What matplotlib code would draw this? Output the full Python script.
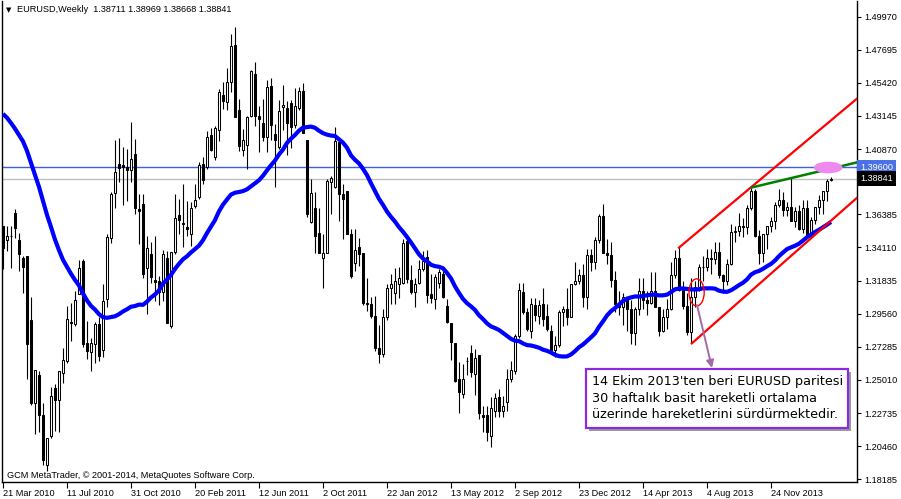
import numpy as np
import pandas as pd
import matplotlib
matplotlib.use("Agg")
import matplotlib.pyplot as plt
from matplotlib.patches import Ellipse, Rectangle
from matplotlib.transforms import blended_transform_factory

# EURUSD weekly bars, week of 21 Mar 2010 .. week of 9 Mar 2014
opens = [
    1.3555, 1.3461, 1.3488, 1.3646, 1.3461, 1.3341, 1.3352, 1.2912, 1.2343, 1.2532,
    1.2263, 1.1919, 1.2119, 1.2446, 1.2366, 1.2550, 1.2630, 1.2900, 1.2882, 1.3093,
    1.3320, 1.2756, 1.2694, 1.2749, 1.2887, 1.2704, 1.3055, 1.3474, 1.3788, 1.3986,
    1.3979, 1.3960, 1.3940, 1.4054, 1.3676, 1.3712, 1.3272, 1.3364, 1.3190, 1.3181,
    1.3107, 1.3337, 1.2871, 1.3380, 1.3632, 1.3580, 1.3552, 1.3502, 1.3697, 1.3754,
    1.3983, 1.3960, 1.4185, 1.4029, 1.4217, 1.4460, 1.4407, 1.4545, 1.4804, 1.4355,
    1.4080, 1.4116, 1.4316, 1.4602, 1.4316, 1.4263, 1.4171, 1.4522, 1.4190, 1.4098,
    1.4373, 1.4369, 1.4401, 1.4254, 1.4369, 1.4488, 1.4149, 1.3587, 1.3681, 1.3513,
    1.3337, 1.3375, 1.3857, 1.3827, 1.4132, 1.3777, 1.3800, 1.3502, 1.3307, 1.3414,
    1.3371, 1.3031, 1.3024, 1.2938, 1.2720, 1.2680, 1.2930, 1.3130, 1.3100, 1.3158,
    1.3169, 1.3456, 1.3185, 1.3107, 1.3169, 1.3261, 1.3346, 1.3089, 1.3055, 1.3169,
    1.3231, 1.3009, 1.2894, 1.2752, 1.2504, 1.2405, 1.2628, 1.2687, 1.2543, 1.2669,
    1.2257, 1.2257, 1.2114, 1.2286, 1.2382, 1.2286, 1.2350, 1.2504, 1.2562, 1.2802,
    1.3107, 1.2969, 1.2837, 1.3015, 1.2940, 1.3020, 1.2940, 1.2840, 1.2710, 1.2740,
    1.2970, 1.2990, 1.2930, 1.3160, 1.3180, 1.3220, 1.3070, 1.3360, 1.3310, 1.3460,
    1.3630, 1.3370, 1.3360, 1.3190, 1.3020, 1.3000, 1.3070, 1.2990, 1.2820, 1.2990,
    1.3110, 1.3050, 1.3030, 1.3110, 1.3000, 1.2840, 1.2930, 1.2990, 1.3220, 1.3340,
    1.3120, 1.3010, 1.2830, 1.3070, 1.3140, 1.3280, 1.3275, 1.3340, 1.3330, 1.3380,
    1.3220, 1.3180, 1.3300, 1.3520, 1.3525, 1.3560, 1.3550, 1.3680, 1.3800, 1.3490,
    1.3370, 1.3500, 1.3560, 1.3590, 1.3700, 1.3740, 1.3670, 1.3690, 1.3590, 1.3660,
    1.3540, 1.3680, 1.3490, 1.3600, 1.3690, 1.3740, 1.3800, 1.38711,
]
highs = [
    1.3560, 1.3559, 1.3555, 1.3676, 1.3513, 1.3352, 1.3352, 1.3073, 1.2566, 1.2560,
    1.2343, 1.2103, 1.2450, 1.2470, 1.2561, 1.2720, 1.3006, 1.3030, 1.3110, 1.3325,
    1.3330, 1.2908, 1.2791, 1.2900, 1.2930, 1.3160, 1.3500, 1.3790, 1.4149, 1.4160,
    1.4100, 1.4090, 1.4270, 1.4157, 1.3779, 1.3779, 1.3490, 1.3450, 1.3490, 1.3214,
    1.3390, 1.3387, 1.3380, 1.3777, 1.3743, 1.3846, 1.3732, 1.3721, 1.3846, 1.3997,
    1.4032, 1.4214, 1.4232, 1.4248, 1.4497, 1.4549, 1.4641, 1.4877, 1.4928, 1.4432,
    1.4226, 1.4316, 1.4631, 1.4687, 1.4385, 1.4432, 1.4560, 1.4572, 1.4259, 1.4425,
    1.4530, 1.4420, 1.4425, 1.4506, 1.4510, 1.4538, 1.4149, 1.3880, 1.3789, 1.3685,
    1.3502, 1.3883, 1.3903, 1.4240, 1.4132, 1.3846, 1.3800, 1.3536, 1.3536, 1.3474,
    1.3371, 1.3203, 1.3071, 1.3080, 1.2880, 1.2990, 1.3160, 1.3230, 1.3272, 1.3277,
    1.3467, 1.3490, 1.3290, 1.3199, 1.3323, 1.3385, 1.3390, 1.3227, 1.3231, 1.3261,
    1.3250, 1.3055, 1.2894, 1.2752, 1.2626, 1.2612, 1.2660, 1.2742, 1.2713, 1.2669,
    1.2324, 1.2324, 1.2386, 1.2409, 1.2440, 1.2392, 1.2573, 1.2630, 1.2818, 1.3170,
    1.3169, 1.2997, 1.3066, 1.3066, 1.3048, 1.3135, 1.3020, 1.2880, 1.2800, 1.2980,
    1.3010, 1.3130, 1.3160, 1.3310, 1.3260, 1.3300, 1.3400, 1.3400, 1.3480, 1.3640,
    1.3710, 1.3470, 1.3450, 1.3250, 1.3110, 1.3100, 1.3070, 1.3050, 1.3000, 1.3200,
    1.3200, 1.3110, 1.3240, 1.3240, 1.3000, 1.2990, 1.3060, 1.3310, 1.3390, 1.3420,
    1.3180, 1.3100, 1.3200, 1.3180, 1.3300, 1.3350, 1.3400, 1.3400, 1.3450, 1.3450,
    1.3230, 1.3330, 1.3570, 1.3560, 1.3650, 1.3610, 1.3700, 1.3832, 1.3810, 1.3530,
    1.3500, 1.3560, 1.3620, 1.3720, 1.3810, 1.3790, 1.3720, 1.3893, 1.3690, 1.3700,
    1.3740, 1.3740, 1.3620, 1.3690, 1.3770, 1.3800, 1.3880, 1.38969,
]
lows = [
    1.3265, 1.3387, 1.3272, 1.3474, 1.3252, 1.3100, 1.2504, 1.2332, 1.2130, 1.2145,
    1.1920, 1.1878, 1.2100, 1.2148, 1.2141, 1.2480, 1.2620, 1.2770, 1.2870, 1.3090,
    1.2730, 1.2648, 1.2561, 1.2620, 1.2630, 1.2660, 1.3000, 1.3440, 1.3680, 1.3860,
    1.3700, 1.3730, 1.3860, 1.3640, 1.3435, 1.3203, 1.2954, 1.3170, 1.3043, 1.3019,
    1.3040, 1.2894, 1.2861, 1.3368, 1.3502, 1.3411, 1.3491, 1.3423, 1.3681, 1.3745,
    1.3849, 1.3950, 1.4071, 1.4012, 1.4140, 1.4359, 1.4354, 1.4481, 1.4304, 1.4071,
    1.4042, 1.3950, 1.4306, 1.4248, 1.4064, 1.4145, 1.4065, 1.4148, 1.3823, 1.4088,
    1.4218, 1.4049, 1.4095, 1.4232, 1.4355, 1.4194, 1.3617, 1.3582, 1.3375, 1.3375,
    1.3135, 1.3375, 1.3640, 1.3820, 1.3593, 1.3467, 1.3502, 1.3199, 1.3250, 1.3284,
    1.3015, 1.2974, 1.2929, 1.2700, 1.2620, 1.2660, 1.2910, 1.3020, 1.3020, 1.3066,
    1.3158, 1.3170, 1.3089, 1.3005, 1.3158, 1.3250, 1.3031, 1.3031, 1.2986, 1.3135,
    1.3066, 1.2894, 1.2635, 1.2490, 1.2276, 1.2378, 1.2534, 1.2518, 1.2399, 1.2233,
    1.2141, 1.2079, 1.2038, 1.2244, 1.2244, 1.2244, 1.2286, 1.2488, 1.2543, 1.2790,
    1.2951, 1.2837, 1.2790, 1.2906, 1.2882, 1.2871, 1.2840, 1.2690, 1.2660, 1.2730,
    1.2870, 1.2880, 1.2930, 1.3150, 1.3160, 1.3000, 1.2990, 1.3250, 1.3260, 1.3440,
    1.3370, 1.3300, 1.3140, 1.2970, 1.2950, 1.2880, 1.2840, 1.2750, 1.2740, 1.2950,
    1.2990, 1.2950, 1.3020, 1.3000, 1.2800, 1.2830, 1.2850, 1.2980, 1.3200, 1.3110,
    1.2990, 1.2810, 1.2755, 1.3000, 1.3110, 1.3180, 1.3250, 1.3230, 1.3300, 1.3200,
    1.3100, 1.3150, 1.3290, 1.3450, 1.3490, 1.3480, 1.3500, 1.3670, 1.3480, 1.3300,
    1.3310, 1.3400, 1.3520, 1.3540, 1.3690, 1.3630, 1.3630, 1.3590, 1.3550, 1.3530,
    1.3510, 1.3480, 1.3480, 1.3570, 1.3640, 1.3640, 1.3730, 1.38668,
]
closes = [
    1.3405, 1.3490, 1.3492, 1.3547, 1.3368, 1.3279, 1.2745, 1.2343, 1.2566, 1.2263,
    1.1954, 1.2103, 1.2393, 1.2366, 1.2561, 1.2635, 1.2917, 1.2893, 1.3047, 1.3272,
    1.2747, 1.2699, 1.2752, 1.2887, 1.2665, 1.3043, 1.3483, 1.3781, 1.3926, 1.3958,
    1.3965, 1.3945, 1.4018, 1.3683, 1.3662, 1.3231, 1.3405, 1.3208, 1.3176, 1.3107,
    1.3366, 1.2894, 1.3380, 1.3612, 1.3598, 1.3571, 1.3536, 1.3681, 1.3738, 1.3979,
    1.3873, 1.4171, 1.4080, 1.4228, 1.4476, 1.4414, 1.4545, 1.4797, 1.4304, 1.4110,
    1.4149, 1.4309, 1.4625, 1.4316, 1.4293, 1.4171, 1.4511, 1.4254, 1.4149, 1.4350,
    1.4391, 1.4263, 1.4236, 1.4385, 1.4488, 1.4194, 1.3644, 1.3784, 1.3490, 1.3375,
    1.3371, 1.3869, 1.3887, 1.4139, 1.3777, 1.3743, 1.3502, 1.3215, 1.3392, 1.3368,
    1.3031, 1.3020, 1.2940, 1.2720, 1.2680, 1.2930, 1.3130, 1.3160, 1.3181, 1.3203,
    1.3444, 1.3192, 1.3107, 1.3162, 1.3261, 1.3318, 1.3084, 1.3066, 1.3208, 1.3245,
    1.3071, 1.2901, 1.2763, 1.2497, 1.2419, 1.2504, 1.2632, 1.2557, 1.2649, 1.2274,
    1.2247, 1.2144, 1.2309, 1.2378, 1.2286, 1.2321, 1.2504, 1.2566, 1.2802, 1.3117,
    1.2969, 1.2848, 1.3024, 1.2947, 1.3015, 1.2917, 1.2850, 1.2710, 1.2740, 1.2970,
    1.2990, 1.2930, 1.3160, 1.3180, 1.3220, 1.3070, 1.3360, 1.3310, 1.3460, 1.3630,
    1.3370, 1.3360, 1.3190, 1.3020, 1.3000, 1.3070, 1.2990, 1.2820, 1.2990, 1.3110,
    1.3050, 1.3030, 1.3110, 1.3000, 1.2840, 1.2930, 1.2990, 1.3220, 1.3340, 1.3120,
    1.3010, 1.2830, 1.3070, 1.3140, 1.3280, 1.3275, 1.3340, 1.3330, 1.3380, 1.3220,
    1.3180, 1.3300, 1.3520, 1.3525, 1.3560, 1.3550, 1.3680, 1.3800, 1.3490, 1.3370,
    1.3500, 1.3560, 1.3590, 1.3700, 1.3740, 1.3670, 1.3690, 1.3590, 1.3660, 1.3540,
    1.3680, 1.3490, 1.3600, 1.3690, 1.3740, 1.3800, 1.3870, 1.38841,
]
# 29 weekly closes before the first visible bar, needed by the 30 week SMA
pre_closes = [
    1.4290, 1.4570, 1.4710, 1.4680, 1.4590, 1.4700, 1.4860, 1.5010, 1.4720, 1.4880,
    1.4960, 1.4880, 1.4960, 1.4750, 1.4620, 1.4340, 1.4340, 1.4320, 1.4410, 1.4390,
    1.4140, 1.3870, 1.3650, 1.3610, 1.3650, 1.3630, 1.3620, 1.3770, 1.3520,
]
ma_period = 30

tick_dates = ["2010-03-21", "2010-07-11", "2010-10-31", "2011-02-20", "2011-06-12",
              "2011-10-02", "2012-01-22", "2012-05-13", "2012-09-02", "2012-12-23",
              "2013-04-14", "2013-08-04", "2013-11-24"]
# the 1.38595 step sits under the price boxes, so it is not shown
price_ticks = [1.18185, 1.20460, 1.22735, 1.25010, 1.27285, 1.29560, 1.31835,
               1.34110, 1.36385, 1.40870, 1.43145, 1.45420, 1.47695, 1.49970]

level_line = 1.39600
bid = 1.38841

# drawn objects: (bar index, price)
channel_top = [(169, 1.3410), (213.5, 1.4433)]
channel_bottom = [(172.2, 1.2752), (213.5, 1.3752)]
green_line = [(187.2, 1.3823), (213.5, 1.3995)]

note_lines = ["14 Ekim 2013'ten beri EURUSD paritesi",
              "30 haftalık basit hareketli ortalama",
              "üzerinde hareketlerini sürdürmektedir."]

# ---------------------------------------------------------------
W, H = 901, 499
fig = plt.figure(figsize=(W / 100, H / 100), dpi=100)
fig.patch.set_facecolor("white")
L, R, T, B = 2, 857, 1, 482
ax = fig.add_axes([L / W, (H - B) / H, (R - L) / W, (B - T) / H])

dates = pd.date_range("2010-03-21", periods=len(closes), freq="W-SUN")
idx = np.arange(len(closes))
o = np.array(opens); h = np.array(highs); lo = np.array(lows); c = np.array(closes)

font = ["Liberation Sans", "DejaVu Sans"]

# candles
ax.vlines(idx, lo, h, color="black", linewidth=0.8, zorder=3)
up = c >= o
body_lo = np.minimum(o, c)
body_h = np.maximum(np.abs(c - o), 0.00005)
ax.bar(idx[up], body_h[up], bottom=body_lo[up], width=0.5, facecolor="white",
       edgecolor="black", linewidth=0.75, zorder=4)
ax.bar(idx[~up], body_h[~up], bottom=body_lo[~up], width=0.5, facecolor="black",
       edgecolor="black", linewidth=0.75, zorder=4)

# 30 week simple moving average
allc = np.array(pre_closes + closes)
sma = np.convolve(allc, np.ones(ma_period) / ma_period, mode="valid")
ax.plot(idx, sma, color="#0000ff", linewidth=3.0, solid_capstyle="butt", zorder=5)

# horizontal lines
ax.axhline(level_line, color="#3a62e0", linewidth=1.0, zorder=2)
ax.axhline(bid, color="#c0c0c0", linewidth=1.0, zorder=2)

# channel + trend line
for (x0, y0), (x1, y1) in (channel_top, channel_bottom):
    ax.plot([x0, x1], [y0, y1], color="#ff0000", linewidth=1.6, zorder=6)
ax.plot([green_line[0][0], green_line[1][0]], [green_line[0][1], green_line[1][1]],
        color="#008000", linewidth=1.8, zorder=6)

# ellipses
ax.add_patch(Ellipse((173.4, 1.3102), 3.8, 0.0186, fill=False, edgecolor="#ff0000",
                     linewidth=1.0, zorder=7))
ax.add_patch(Ellipse((206.3, 1.3960), 6.8, 0.0070, facecolor="#ee8aee",
                     edgecolor="#ee8aee", zorder=7))

ax.set_xlim((L - 3) / 4, (R - 3) / 4)
ax.set_ylim(1.18000, 1.51035)


def axp(px, py):
    return (px - L) / (R - L), (B - py) / (B - T)


# arrow from the ellipse to the note
ax.annotate("", xy=axp(712, 368), xytext=axp(697, 305), xycoords="axes fraction",
            textcoords="axes fraction",
            arrowprops=dict(arrowstyle="-|>", color="#a46aa8", lw=1.4, mutation_scale=11,
                            shrinkA=0, shrinkB=0), zorder=8)

# note box with shadow
bx0, by0 = axp(586, 428)
bx1, by1 = axp(848, 369)
sx, sy = 3 / (R - L), 3 / (B - T)
ax.add_patch(Rectangle((bx0 + sx, by0 - sy), bx1 - bx0, by1 - by0, transform=ax.transAxes,
                       facecolor="#9a9a9a", edgecolor="none", zorder=9, clip_on=False))
ax.add_patch(Rectangle((bx0, by0), bx1 - bx0, by1 - by0, transform=ax.transAxes,
                       facecolor="white", edgecolor="#8a2be2", linewidth=1.6, zorder=10,
                       clip_on=False))
for k, line in enumerate(note_lines):
    tx, ty = axp(592, 381 + 17 * k)
    ax.text(tx, ty, line, transform=ax.transAxes, fontsize=9.2, family="DejaVu Sans",
            va="center", ha="left", color="black", zorder=11)

# header and footer
hx, hy = axp(6, 10)
ax.text(hx, hy, "\u25bc", transform=ax.transAxes, fontsize=5, family="DejaVu Sans",
        va="center", ha="left")
hx, hy = axp(17, 10)
ax.text(hx, hy, "EURUSD,Weekly  1.38711 1.38969 1.38668 1.38841", transform=ax.transAxes,
        fontsize=6.6, family=font, va="center", ha="left")
fx, fy = axp(7, 475)
ax.text(fx, fy, "GCM MetaTrader, \u00a9 2001-2014, MetaQuotes Software Corp.",
        transform=ax.transAxes, fontsize=6.6, family=font, va="center", ha="left")

# axes
for s in ax.spines.values():
    s.set_color("black")
    s.set_linewidth(1.0)
ax.spines["top"].set_visible(False)

ax.yaxis.tick_right()
ax.set_yticks(price_ticks)
ax.set_yticklabels(["%.5f" % v for v in price_ticks], family=font, fontsize=6.6)
ax.tick_params(axis="y", direction="out", length=3, width=0.8, pad=2)

pos = [dates.get_loc(pd.Timestamp(d)) for d in tick_dates]
lbls = [pd.Timestamp(d).strftime("%-d %b %Y") for d in tick_dates]
ax.set_xticks(pos)
ax.set_xticklabels(lbls, family=font, fontsize=6.6, ha="left")
ax.tick_params(axis="x", direction="out", length=4, width=0.8, pad=1)

# price boxes on the scale
tr = blended_transform_factory(ax.transAxes, ax.transData)
ax.text(1.0 + 3 / (R - L), level_line, "1.39600", transform=tr, fontsize=6.6, family=font,
        color="white", va="center", ha="left", zorder=12, clip_on=False,
        bbox=dict(boxstyle="square,pad=0.3", facecolor="#4a72e6", edgecolor="none"))
ax.text(1.0 + 3 / (R - L), bid, "1.38841", transform=tr, fontsize=6.6, family=font,
        color="white", va="center", ha="left", zorder=12, clip_on=False,
        bbox=dict(boxstyle="square,pad=0.3", facecolor="black", edgecolor="none"))

fig.savefig("out.png", dpi=100, facecolor="white")
